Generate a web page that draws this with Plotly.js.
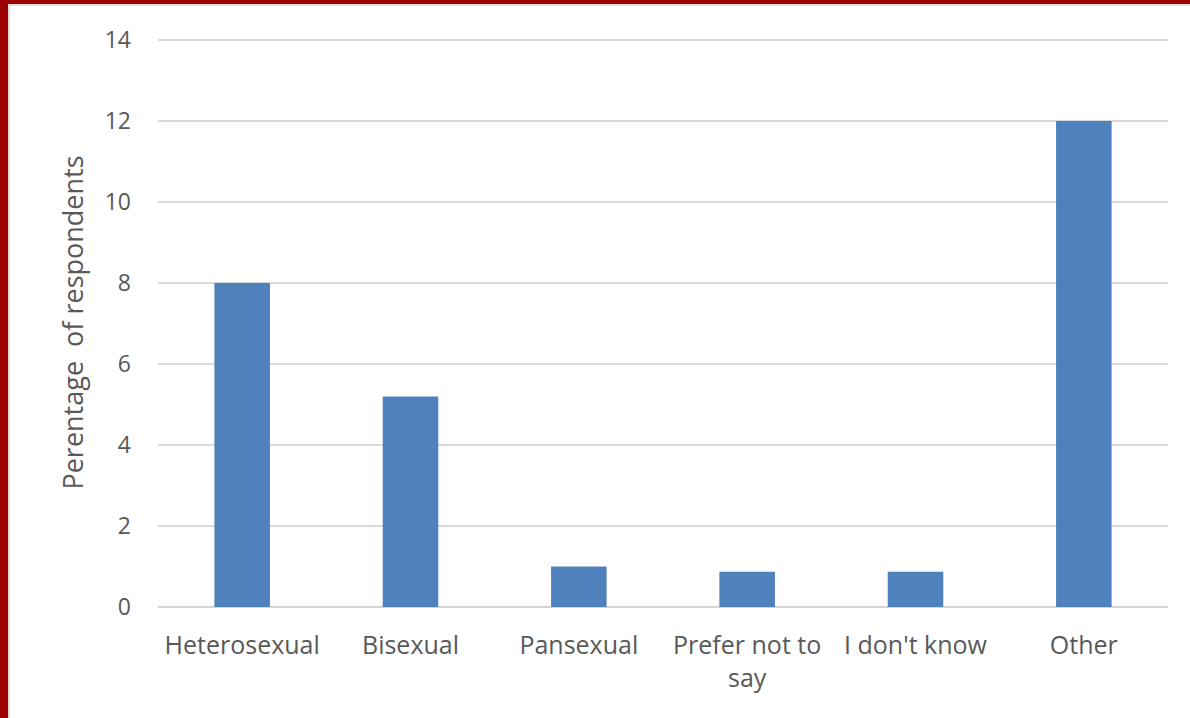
<!DOCTYPE html>
<html>
<head>
<meta charset="utf-8">
<script src="https://cdn.plot.ly/plotly-3.0.1.min.js"></script>
<style>
html,body{margin:0;padding:0;background:#fff;}
#chart{width:1190px;height:718px;}
.bl{position:absolute;left:0;top:0;width:8px;height:718px;background:#9c0000;}
.bt{position:absolute;left:0;top:0;width:1190px;height:4px;background:#9c0000;}
.il{position:absolute;left:8px;top:4px;width:2px;height:714px;background:#dcdcdc;}
.it{position:absolute;left:8px;top:4px;width:1182px;height:2px;background:#dcdcdc;}
</style>
</head>
<body>
<div id="chart"></div>
<div class="bl"></div><div class="bt"></div><div class="il"></div><div class="it"></div>
<script>
const categories = ["Heterosexual", "Bisexual", "Pansexual", "Prefer not to<br>say", "I don't know", "Other"];
const values = [8, 5.2, 1.0, 0.87, 0.87, 12];
const yTicks = [0, 2, 4, 6, 8, 10, 12, 14];

const trace = {
  type: "bar",
  x: categories,
  y: values,
  width: 0.33,
  marker: {color: "#4f81bd"},
  hoverinfo: "x+y"
};

const layout = {
  width: 1190,
  height: 718,
  margin: {l: 158, r: 22, t: 38, b: 111},
  paper_bgcolor: "#ffffff",
  plot_bgcolor: "#ffffff",
  showlegend: false,
  font: {family: "Open Sans, sans-serif", color: "#595959", size: 23},
  xaxis: {
    showgrid: false,
    showline: false,
    zeroline: false,
    ticks: "",
    tickfont: {size: 25, color: "#595959"},
    ticklabelstandoff: 21
  },
  yaxis: {
    range: [0, 14.05],
    tickvals: yTicks,
    showgrid: true,
    gridcolor: "#d9d9d9",
    gridwidth: 1.3,
    zeroline: true,
    zerolinecolor: "#d4d4d4",
    zerolinewidth: 1.5,
    showline: false,
    ticks: "",
    ticklabelstandoff: 26,
    tickfont: {size: 23, color: "#595959"},
    title: {text: "Perentage  of respondents", font: {size: 27, color: "#595959"}, standoff: 13}
  }
};

Plotly.newPlot("chart", [trace], layout, {displayModeBar: false, staticPlot: true});
</script>
</body>
</html>
